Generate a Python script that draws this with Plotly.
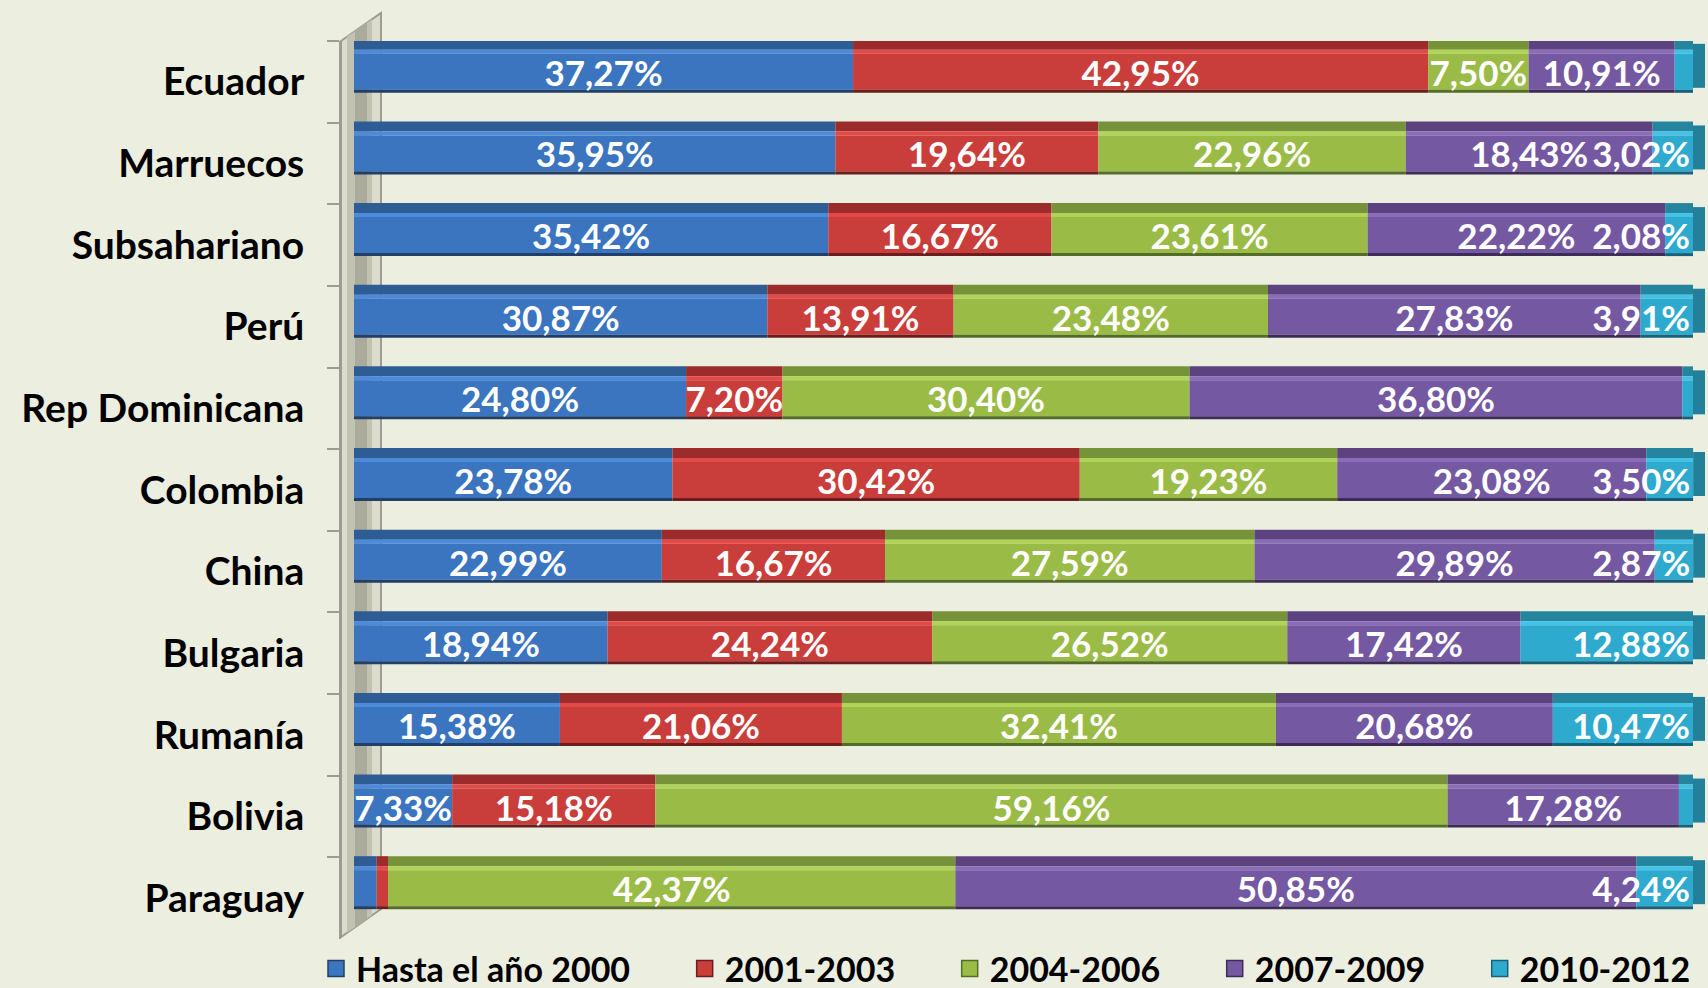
import plotly.graph_objects as go

# ---------------- data ----------------
categories = ["Ecuador", "Marruecos", "Subsahariano", "Perú", "Rep Dominicana",
              "Colombia", "China", "Bulgaria", "Rumanía", "Bolivia", "Paraguay"]
series_names = ["Hasta el año 2000", "2001-2003", "2004-2006", "2007-2009", "2010-2012"]
hasta_2000 = [37.27, 35.95, 35.42, 30.87, 24.80, 23.78, 22.99, 18.94, 15.38, 7.33, 1.69]
p2001_2003 = [42.95, 19.64, 16.67, 13.91, 7.20, 30.42, 16.67, 24.24, 21.06, 15.18, 0.85]
p2004_2006 = [7.50, 22.96, 23.61, 23.48, 30.40, 19.23, 27.59, 26.52, 32.41, 59.16, 42.37]
p2007_2009 = [10.91, 18.43, 22.22, 27.83, 36.80, 23.08, 29.89, 17.42, 20.68, 17.28, 50.85]
p2010_2012 = [1.37, 3.02, 2.08, 3.91, 0.80, 3.50, 2.87, 12.88, 10.47, 1.05, 4.24]
series_values = [hasta_2000, p2001_2003, p2004_2006, p2007_2009, p2010_2012]

# ---------------- style ----------------
face_colors = ["#3B74BF", "#C93D3B", "#9BBB47", "#7558A2", "#2EAACE"]
top_colors = ["#2E5C95", "#9C2C2B", "#76933A", "#5C4380", "#25859F"]
hi_colors = ["#4C8ADA", "#E24A48", "#B0D458", "#8A6CB9", "#41C3E7"]
shadow_colors = ["#213F69", "#6B1E1D", "#536D28", "#3D2B58", "#18617A"]
legend_pad = [6, 6, 6, 6, 0]
cap_color = "#22809B"
BG = "#ECEEE0"
AXIS_GRAY = "#9C9C94"
FONT = "Lato"

W, H = 1708, 988
ML, MR, MT, MB = 341, 3, 41, 49
n = len(categories)
PX_PER_CAT = (H - MT - MB) / n
PX_PER_PCT = 13.39
x_min = -(354 - ML) / PX_PER_PCT
x_max = x_min + (W - ML - MR) / PX_PER_PCT

# vertical bands relative to category centre (px, negative = up)
TOP_FACE = (-42, -32)
HIGHLIGHT = (-32, -28)
FACE = (-28, 8)
SHADOW = (8, 11)
CAP = (-38, 6)


def band_kw(band):
    a, b = band
    return dict(offset=a / PX_PER_CAT, width=(b - a) / PX_PER_CAT)


def fmt(v):
    return ("%.2f" % v).replace(".", ",") + "%" if v >= 2 else ""


# cumulative bases
bases = []
running = [0.0] * n
for vals in series_values:
    bases.append(list(running))
    running = [r + v for r, v in zip(running, vals)]
totals = running

fig = go.Figure()

# bar bodies (no text)
for k, vals in enumerate(series_values):
    for band, col in ((TOP_FACE, top_colors[k]), (HIGHLIGHT, hi_colors[k]),
                      (FACE, face_colors[k]), (SHADOW, shadow_colors[k])):
        fig.add_trace(go.Bar(
            y=categories, x=vals, base=bases[k], orientation="h",
            marker=dict(color=col, line=dict(width=0)),
            hoverinfo="skip", showlegend=False, **band_kw(band)))

# right end cap of each bar (3D depth)
fig.add_trace(go.Bar(
    y=categories, x=[12 / PX_PER_PCT] * n, base=totals, orientation="h",
    marker=dict(color=cap_color, line=dict(width=0)),
    hoverinfo="skip", showlegend=False, **band_kw(CAP)))

# value labels drawn last so they sit on top of every segment
for k, vals in enumerate(series_values):
    fig.add_trace(go.Bar(
        y=categories, x=vals, base=bases[k], orientation="h",
        marker=dict(color="rgba(0,0,0,0)", line=dict(width=0)),
        text=[fmt(v) for v in vals], textposition="inside",
        insidetextanchor="end" if k == len(series_values) - 1 else "middle",
        constraintext="none", textangle=0,
        textfont=dict(family=FONT, size=35, color="white", weight="bold"),
        hoverinfo="skip", showlegend=False, **band_kw(FACE)))

# legend entries
for k, name in enumerate(series_names):
    fig.add_trace(go.Scatter(
        x=[None], y=[None], mode="markers", name=name + "\u00a0" * legend_pad[k],
        marker=dict(symbol="square", size=16, color=face_colors[k],
                    line=dict(color=shadow_colors[k], width=1.5)),
        showlegend=True, hoverinfo="skip"))


# ---------------- 3D side wall decoration ----------------
PW = W - ML - MR
PH = H - MT - MB


def xp(px):
    return (px - ML) / PW


def yp(py):
    return (H - MB - py) / PH


SLOPE = 28 / 40.0


def wall_path(xa, xb, top=41, bottom=937):
    ya_t = top - SLOPE * (xa - 341)
    yb_t = top - SLOPE * (xb - 341)
    ya_b = bottom - SLOPE * (xa - 341)
    yb_b = bottom - SLOPE * (xb - 341)
    return (f"M {xp(xa)} {yp(ya_t)} L {xp(xb)} {yp(yb_t)} "
            f"L {xp(xb)} {yp(yb_b)} L {xp(xa)} {yp(ya_b)} Z")


shapes = [
    dict(type="path", xref="paper", yref="paper", layer="below",
         path=wall_path(341, 381), fillcolor="#DCDCCC",
         line=dict(color=AXIS_GRAY, width=2)),
    dict(type="path", xref="paper", yref="paper", layer="below",
         path=wall_path(347, 372), fillcolor="#C2C2B2", line=dict(width=0)),
    dict(type="path", xref="paper", yref="paper", layer="below",
         path=wall_path(355, 367), fillcolor="#ABAB9B", line=dict(width=0)),
]

fig.update_layout(
    barmode="overlay",
    width=W, height=H,
    margin=dict(l=ML, r=MR, t=MT, b=MB, autoexpand=False),
    paper_bgcolor=BG, plot_bgcolor=BG,
    xaxis=dict(range=[x_min, x_max], visible=False, fixedrange=True),
    yaxis=dict(type="category", categoryorder="array", categoryarray=categories,
               range=[n - 0.5, -0.5], showline=True, linecolor=AXIS_GRAY, linewidth=2,
               ticks="outside", tickson="boundaries", ticklen=12, tickwidth=2,
               tickcolor=AXIS_GRAY, showgrid=False, zeroline=False, fixedrange=True,
               ticklabelstandoff=27,
               tickfont=dict(family=FONT, size=39, color="black", weight="bold")),
    legend=dict(orientation="h", xref="paper", yref="paper",
                x=xp(316), y=yp(969), xanchor="left", yanchor="middle",
                font=dict(family=FONT, size=34, color="black", weight="bold"),
                bgcolor="rgba(0,0,0,0)", itemclick=False, itemdoubleclick=False),
    showlegend=True,
    shapes=shapes,
)

fig.write_html("out.html", config={"displayModeBar": False},
               post_script="document.body.style.margin='0';document.body.style.overflow='hidden';")
